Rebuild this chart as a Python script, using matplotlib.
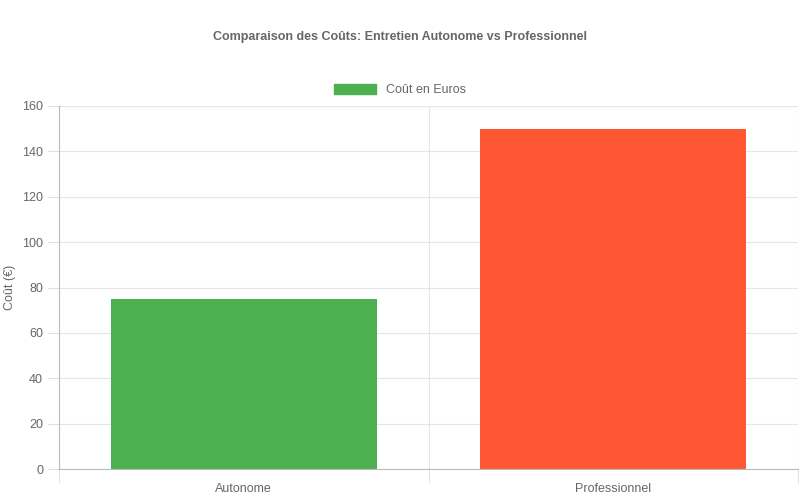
import matplotlib
matplotlib.use("Agg")
import matplotlib.pyplot as plt
from matplotlib.patches import Patch

categories = ["Autonome", "Professionnel"]
values = [75, 150]
colors = ["#4CAF50", "#FF5733"]
yticks = [0, 20, 40, 60, 80, 100, 120, 140, 160]

plt.rcParams['font.family'] = ['Liberation Sans', 'DejaVu Sans']
fig = plt.figure(figsize=(8, 5), dpi=100)
ax = fig.add_axes([59/800, 1-469/500, (798-59)/800, (469-106)/500])
x = list(range(len(categories)))
ax.bar(x, values, width=0.72, color=colors)
ax.set_xlim(-0.5, 1.5)
ax.set_ylim(0, 160)
ax.set_yticks(yticks)
ax.set_xticks(x)
ax.set_xticklabels(categories)
ax.set_xticks([-0.5, 0.5, 1.5], minor=True)
ax.grid(True, axis='y', color='#e5e5e5', linewidth=0.8)
ax.grid(True, axis='x', which='minor', color='#e5e5e5', linewidth=0.8)
ax.set_axisbelow(True)
for s in ['top', 'right']:
    ax.spines[s].set_visible(False)
for s in ['left', 'bottom']:
    ax.spines[s].set_color('#bbbbbb')
ax.tick_params(axis='x', which='major', length=0, labelsize=9, colors='#666666', pad=10)
ax.tick_params(axis='x', which='minor', length=10, color='#dddddd')
ax.tick_params(axis='y', length=8, color='#dddddd', labelsize=9, labelcolor='#666666')
ax.set_ylabel("Coût (€)", fontsize=9, color='#666666')
fig.text(0.5, 1-37/500, "Comparaison des Coûts: Entretien Autonome vs Professionnel",
         ha='center', va='center', fontsize=9, fontweight='bold', color='#666666')
fig.legend(handles=[Patch(color=colors[0])], labels=["Coût en Euros"],
           loc='center', bbox_to_anchor=(0.5, 1-90/500), frameon=False,
           fontsize=9, labelcolor='#666666', handlelength=3.3, handleheight=0.9)
fig.savefig("out.png", dpi=100)
